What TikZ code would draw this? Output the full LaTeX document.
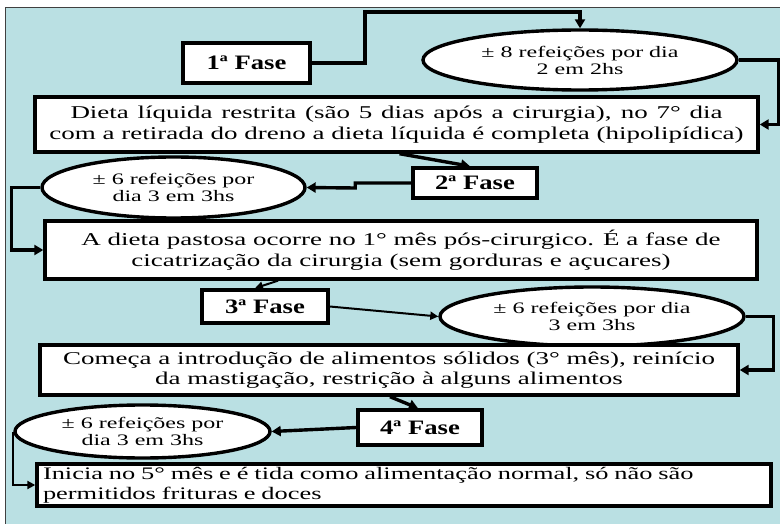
\documentclass[tikz,border=0pt]{standalone}
\usepackage{fontspec}
\setmainfont{Liberation Serif}
\newfontfamily\wide[FakeStretch=1.5]{Liberation Serif}
\newfontfamily\widebold[FakeStretch=1.3]{Liberation Serif Bold}
\usetikzlibrary{arrows.meta,shapes.geometric}
\definecolor{bgblue}{RGB}{186,224,227}
\tikzset{
  boxtext/.style={draw=black, fill=white, line width=3.4pt, inner sep=0pt, align=center,
     font=\wide\fontsize{18}{20.5}\selectfont},
  fasebox/.style={draw=black, fill=white, line width=3.6pt, inner sep=0pt,
     font=\widebold\fontsize{20.5}{22}\selectfont},
  oval/.style={ellipse, draw=black, fill=white, line width=3.4pt, inner sep=0pt, align=center,
     font=\wide\fontsize{16}{17}\selectfont},
  arr/.style={line width=3.4pt, -{Triangle[length=9pt,width=10pt]}},
  thinarr/.style={line width=2pt, -{Triangle[length=8pt,width=8pt]}}
}
\begin{document}
\begin{tikzpicture}[x=1pt,y=-1pt]
\useasboundingbox (0,0) rectangle (780,524);
\fill[bgblue] (5,7) rectangle (780,524);
\draw[black!75, line width=0.8pt] (5,524) -- (5,7) -- (780,7);

\node[fasebox, minimum width=127pt, minimum height=40pt] (fase1) at (246.5,63) {1ª Fase};
\node[oval, minimum width=314pt, minimum height=60pt] (ell1) at (580,60) {± 8 refeições por dia\\2 em 2hs};
\node[boxtext, minimum width=723pt, minimum height=55pt] (box1) at (396.5,124.5)
  {\makebox[652pt][s]{Dieta líquida restrita (são 5 dias após a cirurgia), no 7° dia}\\com a retirada do dreno a dieta líquida é completa (hipolipídica)};
\node[fasebox, minimum width=124pt, minimum height=30pt] (fase2) at (475,183) {2ª Fase};
\node[oval, minimum width=263pt, minimum height=61pt] (ell2) at (173.5,187.5) {± 6 refeições por\\dia 3 em 3hs};
\node[boxtext, minimum width=712pt, minimum height=58pt] (box2) at (401,250)
  {A dieta pastosa ocorre no 1° mês pós-cirurgico. É a fase de\\cicatrização da cirurgia (sem gorduras e açucares)};
\node[fasebox, minimum width=126pt, minimum height=33pt] (fase3) at (265,306.5) {3ª Fase};
\node[oval, minimum width=304pt, minimum height=59pt] (ell3) at (592,316.5) {± 6 refeições por dia\\3 em 3hs};
\node[boxtext, minimum width=698pt, minimum height=50pt] (box3) at (389,370)
  {Começa a introdução de alimentos sólidos (3° mês), reinício\\da mastigação, restrição à alguns alimentos};
\node[fasebox, minimum width=124pt, minimum height=35pt] (fase4) at (420,427.5) {4ª Fase};
\node[oval, minimum width=255pt, minimum height=53pt] (ell4) at (142.5,431.5) {± 6 refeições por\\dia 3 em 3hs};
\node[boxtext, font=\wide\fontsize{17.6}{20.5}\selectfont, align=left, text width=722pt, inner xsep=6pt, minimum height=42pt] (box4) at (404,485)
  {Inicia no 5° mês e é tida como alimentação normal, só não são\\permitidos frituras e doces};

\draw[arr] (fase1.east) -- ++(53,0) -- ++(0,-51) -| (ell1.north);
\draw[arr] (ell1.east) -- ++(40,0) |- (box1.east);
\draw[arr] ([xshift=3pt]box1.south) -- ([xshift=-5pt]fase2.north);
\draw[arr] (fase2.west) -- ++(-56,0) -- ++(0,5) -- (ell2.east);
\draw[arr] (ell2.west) -- ++(-29,0) |- (box2.west);
\draw[thinarr] ([xshift=-123pt]box2.south) -- ([xshift=-10pt]fase3.north);
\draw[thinarr] (fase3.east) -- (ell3.west);
\draw[arr] (ell3.east) -- ++(28,0) |- (box3.east);
\draw[arr] ([xshift=1pt]box3.south) -- ([xshift=-2pt]fase4.north);
\draw[arr] (fase4.west) -- (ell4.east);
\draw[thinarr] (ell4.west) |- (box4.west);
\end{tikzpicture}
\end{document}
